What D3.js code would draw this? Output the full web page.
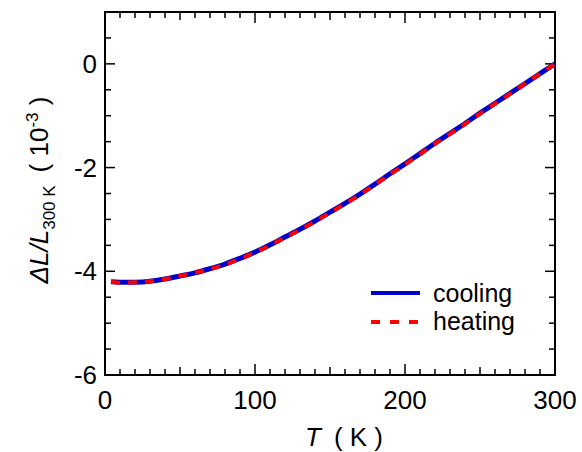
<!DOCTYPE html>
<html><head><meta charset="utf-8">
<script src="https://cdn.jsdelivr.net/npm/d3@7"></script>
<style>body{margin:0;background:#fff}svg{display:block}text{font-family:"Liberation Sans",Arial,sans-serif;fill:#000}</style>
</head><body><svg id="c" width="582" height="452"></svg>
<script>
const temps = [4,10,20,30,40,50,60,70,80,90,100,110,120,130,140,150,160,170,180,190,200,210,220,230,240,250,260,270,280,290,300];
const cooling = [-4.20,-4.21,-4.21,-4.19,-4.15,-4.09,-4.03,-3.95,-3.86,-3.75,-3.63,-3.49,-3.34,-3.19,-3.03,-2.86,-2.69,-2.51,-2.32,-2.12,-1.93,-1.73,-1.53,-1.34,-1.15,-0.95,-0.76,-0.57,-0.38,-0.19,0.00];
const heating = [-4.20,-4.22,-4.21,-4.19,-4.15,-4.09,-4.03,-3.96,-3.87,-3.76,-3.64,-3.50,-3.35,-3.20,-3.04,-2.87,-2.70,-2.52,-2.33,-2.13,-1.94,-1.74,-1.54,-1.35,-1.16,-0.96,-0.77,-0.58,-0.38,-0.19,0.00];
const xLabels = [0,100,200,300];
const yLabels = [0,-2,-4,-6];
const legendNames = ["cooling","heating"];

const svg = d3.select("#c");
const L=105,R=555,T=12,B=375;
const x = d3.scaleLinear().domain([0,300]).range([L,R]);
const y = d3.scaleLinear().domain([-6,1]).range([B,T]);

const g = svg.append("g");
g.append("rect").attr("x",L).attr("y",T).attr("width",R-L).attr("height",B-T)
 .attr("fill","none").attr("stroke","#000").attr("stroke-width",2);

const xt = d3.range(0,301,10);
function xLen(v){return v%100===0?11:(v%50===0?8:6);}
xt.forEach(v=>{
  if(v===0||v===300) return;
  g.append("line").attr("x1",x(v)).attr("x2",x(v)).attr("y1",B).attr("y2",B-xLen(v)).attr("stroke","#000").attr("stroke-width",1.5);
  g.append("line").attr("x1",x(v)).attr("x2",x(v)).attr("y1",T).attr("y2",T+xLen(v)).attr("stroke","#000").attr("stroke-width",1.5);
});
const yt = d3.range(-6,1.01,0.5);
function yLen(v){return Math.abs(v%2)<1e-9?10:6;}
yt.forEach(v=>{
  if(v===-6||v===1) return;
  g.append("line").attr("x1",L).attr("x2",L+yLen(v)).attr("y1",y(v)).attr("y2",y(v)).attr("stroke","#000").attr("stroke-width",1.5);
  g.append("line").attr("x1",R).attr("x2",R-yLen(v)).attr("y1",y(v)).attr("y2",y(v)).attr("stroke","#000").attr("stroke-width",1.5);
});
xLabels.forEach(v=>{
  g.append("text").attr("x",x(v)).attr("y",409).attr("text-anchor","middle").attr("font-size",26).text(v);
});
yLabels.forEach(v=>{
  g.append("text").attr("x",97).attr("y",y(v)+9).attr("text-anchor","end").attr("font-size",26).text(v);
});

const line = d3.line().x((d,i)=>x(temps[i])).y(d=>y(d)).curve(d3.curveCatmullRom);
g.append("path").attr("d",line(cooling)).attr("fill","none").attr("stroke","#0000c8").attr("stroke-width",5);
g.append("path").attr("d",line(heating)).attr("fill","none").attr("stroke","#ff0000").attr("stroke-width",4).attr("stroke-dasharray","9,8");

const lg = svg.append("g");
lg.append("line").attr("x1",371).attr("x2",420).attr("y1",293).attr("y2",293).attr("stroke","#0000c8").attr("stroke-width",4);
lg.append("line").attr("x1",371).attr("x2",420).attr("y1",322).attr("y2",322).attr("stroke","#ff0000").attr("stroke-width",4).attr("stroke-dasharray","9,10");
lg.append("text").attr("x",433).attr("y",302).attr("font-size",25).text(legendNames[0]);
lg.append("text").attr("x",433).attr("y",330).attr("font-size",25).text(legendNames[1]);

const xtit = svg.append("text").attr("x",305).attr("y",446).attr("font-size",26);
xtit.append("tspan").attr("font-style","italic").text("T");
xtit.append("tspan").text("\u2002( K )");

const ytit = svg.append("text").attr("transform","translate(48,190) rotate(-90)").attr("text-anchor","middle").attr("font-size",26);
ytit.append("tspan").attr("font-style","italic").text("\u0394L/L");
ytit.append("tspan").attr("font-size",17).attr("dy",7).text("300 K");
ytit.append("tspan").attr("dy",-7).text("\u2002( 10");
ytit.append("tspan").attr("font-size",17).attr("dy",-10).text("-3");
ytit.append("tspan").attr("dy",10).text(" )");
</script></body></html>
